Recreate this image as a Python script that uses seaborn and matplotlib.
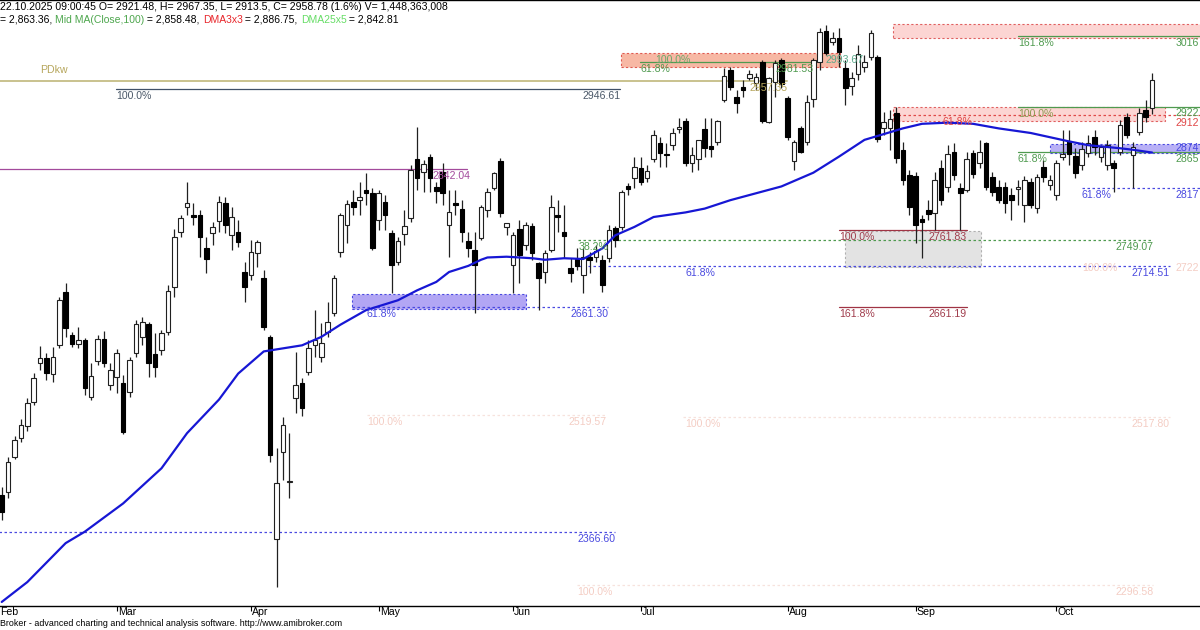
import matplotlib
matplotlib.use("Agg")
import matplotlib.pyplot as plt
import matplotlib.patches as mpatches
import numpy as np
import pandas as pd
import seaborn as sns

# daily bars, 5 Feb .. 22 Oct 2025, one entry per session
opens = [2415, 2419, 2465, 2490, 2505, 2537, 2588, 2594, 2574, 2611,
         2681, 2625, 2613, 2618, 2543, 2591, 2619, 2559, 2570, 2562,
         2550, 2601, 2622, 2639, 2600, 2605, 2628, 2687, 2759, 2792,
         2782, 2782, 2738, 2758, 2774, 2797, 2755, 2759, 2707, 2703,
         2732, 2699, 2622, 2357, 2471, 2432, 2542, 2562, 2576, 2611,
         2596, 2628, 2653, 2733, 2769, 2799, 2801, 2814, 2811, 2775,
         2799, 2758, 2720, 2757, 2778, 2855, 2838, 2858, 2818, 2838,
         2769, 2797, 2790, 2748, 2736, 2752, 2788, 2817, 2852, 2766,
         2716, 2763, 2742, 2767, 2719, 2707, 2736, 2782, 2759, 2712,
         2724, 2703, 2727, 2727, 2723, 2725, 2765, 2766, 2820, 2830,
         2843, 2830, 2855, 2876, 2862, 2873, 2894, 2905, 2850, 2855,
         2894, 2872, 2877, 2932, 2972, 2936, 2949, 2961, 2955, 2982,
         2903, 2956, 2985, 2935, 2852, 2896, 2877, 2934, 2982, 3023,
         3008, 3013, 2974, 2951, 2966, 2975, 2989, 2989, 2896, 2896,
         2915, 2867, 2834, 2833, 2776, 2788, 2784, 2843, 2818, 2864,
         2817, 2814, 2863, 2850, 2876, 2831, 2818, 2818, 2808, 2816,
         2795, 2825, 2791, 2844, 2821, 2808, 2858, 2878, 2859, 2847,
         2863, 2884, 2858, 2847, 2850, 2864, 2910, 2860, 2890, 2919,
         2921.48]
highs = [2426, 2465, 2492, 2515, 2542, 2575, 2610, 2601, 2609, 2674,
         2693, 2628, 2635, 2621, 2588, 2625, 2630, 2588, 2606, 2572,
         2596, 2644, 2648, 2642, 2627, 2631, 2690, 2763, 2782, 2825,
         2797, 2788, 2753, 2773, 2807, 2805, 2792, 2775, 2720, 2749,
         2749, 2710, 2625, 2477, 2517, 2496, 2602, 2568, 2618, 2657,
         2640, 2668, 2703, 2784, 2801, 2814, 2825, 2837, 2817, 2814,
         2808, 2762, 2753, 2788, 2847, 2897, 2854, 2862, 2825, 2850,
         2814, 2814, 2801, 2759, 2759, 2795, 2817, 2838, 2856, 2771,
         2759, 2775, 2773, 2771, 2720, 2736, 2808, 2801, 2795, 2725,
         2738, 2738, 2733, 2742, 2729, 2769, 2767, 2814, 2824, 2858,
         2858, 2847, 2893, 2884, 2876, 2896, 2909, 2909, 2871, 2880,
         2909, 2909, 2906, 2974, 2975, 2945, 2958, 2972, 2968, 2985,
         2962, 2985, 2987, 2938, 2880, 2898, 2939, 2987, 3027, 3030,
         3021, 3027, 2985, 2969, 3004, 2991, 3024, 2991, 2917, 2919,
         2923, 2877, 2841, 2838, 2782, 2801, 2838, 2854, 2873, 2876,
         2824, 2864, 2867, 2880, 2877, 2838, 2827, 2825, 2817, 2827,
         2833, 2830, 2835, 2854, 2834, 2854, 2893, 2893, 2869, 2877,
         2886, 2893, 2873, 2880, 2854, 2906, 2915, 2877, 2922, 2932,
         2967.35]
lows = [2382, 2411, 2462, 2484, 2499, 2533, 2579, 2566, 2563, 2608,
        2622, 2609, 2608, 2546, 2539, 2585, 2583, 2553, 2549, 2495,
        2543, 2596, 2611, 2570, 2570, 2598, 2625, 2674, 2753, 2782,
        2769, 2727, 2706, 2742, 2759, 2758, 2736, 2740, 2668, 2697,
        2714, 2631, 2458, 2295, 2435, 2411, 2522, 2518, 2572, 2596,
        2589, 2622, 2649, 2727, 2745, 2782, 2782, 2795, 2736, 2762,
        2762, 2680, 2716, 2742, 2773, 2814, 2812, 2812, 2797, 2795,
        2727, 2782, 2746, 2727, 2653, 2749, 2779, 2814, 2779, 2755,
        2680, 2693, 2736, 2723, 2657, 2693, 2733, 2759, 2725, 2694,
        2710, 2680, 2706, 2720, 2681, 2720, 2740, 2762, 2808, 2817,
        2821, 2825, 2851, 2845, 2845, 2867, 2889, 2846, 2838, 2841,
        2858, 2858, 2873, 2930, 2945, 2915, 2936, 2958, 2945, 2902,
        2902, 2936, 2948, 2880, 2841, 2863, 2873, 2923, 2972, 2991,
        3004, 2975, 2926, 2939, 2958, 2969, 2985, 2877, 2886, 2867,
        2850, 2821, 2782, 2745, 2725, 2775, 2762, 2795, 2812, 2827,
        2762, 2812, 2830, 2843, 2814, 2806, 2797, 2784, 2775, 2795,
        2772, 2791, 2784, 2825, 2814, 2801, 2854, 2847, 2830, 2841,
        2858, 2860, 2851, 2841, 2812, 2860, 2882, 2817, 2886, 2903,
        2913.5]
closes = [2393, 2458, 2487, 2507, 2536, 2568, 2594, 2575, 2596, 2670,
          2634, 2613, 2618, 2555, 2571, 2619, 2588, 2579, 2601, 2498,
          2592, 2639, 2642, 2588, 2583, 2627, 2682, 2753, 2778, 2797,
          2779, 2753, 2724, 2766, 2799, 2769, 2779, 2746, 2687, 2733,
          2746, 2635, 2467, 2431, 2507, 2433, 2559, 2529, 2608, 2618,
          2614, 2642, 2699, 2782, 2796, 2792, 2805, 2811, 2738, 2811,
          2782, 2716, 2748, 2767, 2841, 2830, 2848, 2830, 2813, 2811,
          2786, 2795, 2759, 2738, 2716, 2792, 2812, 2837, 2784, 2771,
          2755, 2729, 2769, 2732, 2699, 2732, 2792, 2779, 2754, 2706,
          2715, 2727, 2723, 2734, 2690, 2762, 2749, 2812, 2816, 2845,
          2825, 2839, 2886, 2863, 2860, 2889, 2897, 2850, 2860, 2880,
          2869, 2868, 2905, 2964, 2949, 2928, 2945, 2966, 2962, 2905,
          2961, 2981, 2953, 2884, 2877, 2864, 2930, 2985, 3021, 2994,
          3013, 2995, 2948, 2961, 2992, 2982, 3020, 2881, 2903, 2907,
          2856, 2827, 2792, 2769, 2772, 2783, 2827, 2801, 2861, 2834,
          2810, 2855, 2835, 2864, 2818, 2812, 2801, 2797, 2801, 2818,
          2827, 2795, 2831, 2831, 2827, 2850, 2862, 2862, 2837, 2868,
          2876, 2871, 2871, 2873, 2843, 2899, 2886, 2871, 2915, 2910,
          2958.78]

month_labels = ["Feb", "Mar", "Apr", "May", "Jun", "Jul", "Aug", "Sep", "Oct"]
month_first_bar = [-2, 18, 39, 59, 80, 100, 123, 143, 165]

# blue moving average at a handful of bars
ma_bars = [0, 4, 10, 13, 19, 25, 29, 34, 37, 41, 47, 50, 53, 57, 62, 65,
           68, 70, 73, 75, 76, 79, 83, 85, 88, 91, 94, 96, 99, 102, 107,
           110, 114, 118, 122, 127, 131, 135, 141, 144, 148, 152, 156,
           161, 167, 170, 175, 177, 180]
ma_values = [2275, 2301, 2352, 2367, 2404, 2450, 2496, 2540, 2574, 2603,
             2611, 2622, 2638, 2657, 2670, 2683, 2694, 2707, 2715, 2723,
             2726, 2727, 2725, 2723, 2725, 2724, 2738, 2755, 2766, 2779,
             2785, 2790, 2801, 2810, 2819, 2837, 2858, 2880, 2895, 2901,
             2902.5, 2901, 2895, 2889, 2878, 2873, 2869, 2867, 2863.36]

W, H = 1200, 630
FS = 7.6
DASH = (0, (2, 2))
RIGHT_EDGE = 187.35


def level(ax, y, x0, x1, color, ls="-", lw=0.9, z=2):
    ax.plot([x0, x1], [y, y], color=color, ls=ls, lw=lw, zorder=z)


def label(ax, x, y, text, color, ha="left", below=True):
    ax.annotate(text, (x, y), xytext=(0, -2 if below else 2),
                textcoords="offset pixels", ha=ha,
                va="top" if below else "bottom", color=color,
                fontsize=FS, zorder=9, annotation_clip=False)


def box(ax, x0, x1, y0, y1, face, edge, z=1):
    ax.add_patch(mpatches.Rectangle((x0, y0), x1 - x0, y1 - y0,
                                    facecolor=face, edgecolor=edge,
                                    lw=0.8, ls=DASH, zorder=z))


def draw_candles(ax, df):
    up = df["close"] >= df["open"]
    bottom = np.minimum(df["open"], df["close"])
    height = np.maximum(np.abs(df["close"] - df["open"]), 1.0)
    ax.vlines(df["bar"], df["low"], df["high"], color="#202020", lw=0.9, zorder=4)
    ax.bar(df["bar"][up], height[up], bottom=bottom[up], width=0.72,
           color="white", edgecolor="#202020", lw=0.8, zorder=5)
    ax.bar(df["bar"][~up], height[~up], bottom=bottom[~up], width=0.72,
           color="black", edgecolor="black", lw=0.8, zorder=5)


def header(fig):
    renderer = fig.canvas.get_renderer()
    fig.text(0, 1 - 6.5 / H,
             "22.10.2025 09:00:45 O= 2921.48, H= 2967.35, L= 2913.5, "
             "C= 2958.78 (1.6%) V= 1,448,363,008",
             fontsize=FS, va="center", ha="left", color="black")
    parts = [("= 2,863.36, ", "black"), ("Mid MA(Close,100)", "#4da64d"),
             (" = 2,858.48, ", "black"), ("DMA3x3", "#e8262b"),
             (" = 2,886.75, ", "black"), ("DMA25x5", "#66dd66"),
             (" = 2,842.81", "black")]
    x = 0.0
    for text, color in parts:
        t = fig.text(x / W, 1 - 20 / H, text, fontsize=7.45, va="center",
                     ha="left", color=color)
        x += t.get_window_extent(renderer).width


def main():
    sns.set_style("white")
    plt.rcParams["font.family"] = ["Liberation Sans", "DejaVu Sans"]

    df = pd.DataFrame({"open": opens, "high": highs, "low": lows, "close": closes})
    df["bar"] = np.arange(len(df))

    fig = plt.figure(figsize=(W / 100, H / 100), dpi=100)
    ax = fig.add_axes([0, 24 / H, 1, 606 / H])
    ax.set_xlim(-0.27, 187.5)
    ax.set_ylim(2269.7, 3063.1)

    # zones
    box(ax, 96.9, 131.2, 2975.8, 2993.7, "#f7b8a4", "#e05a50")
    box(ax, 139.5, 190, 3013.0, 3031.7, "#fcd5d3", "#e06060")
    box(ax, 139.5, 182.1, 2904.7, 2923.1, "#fcd5d3", "#e06060")
    box(ax, 164.0, 190, 2862.8, 2874.6, "#b8b0f6", "#4a4ae0")
    box(ax, 132.0, 153.3, 2713.6, 2760.7, "#e3e3e3", "#b0b0b0")
    box(ax, 54.8, 82.1, 2658.6, 2678.2, "#b2a6f4", "#4a4ae0")

    # faint retracement levels
    faint, faint_txt = "#f7e2dd", "#f4cdc4"
    level(ax, 2519.57, 57.2, 94.7, faint, DASH)
    label(ax, 57.2, 2519.57, "100.0%", faint_txt)
    label(ax, 94.7, 2519.57, "2519.57", faint_txt, ha="right")
    level(ax, 2517.80, 106.6, 182.8, faint, DASH)
    label(ax, 107.0, 2517.80, "100.0%", faint_txt)
    label(ax, 182.8, 2517.80, "2517.80", faint_txt, ha="right")
    level(ax, 2297.2, 90.0, 180.2, faint, DASH)
    label(ax, 90.0, 2297.2, "100.0%", faint_txt)
    label(ax, 180.2, 2297.2, "2296.58", faint_txt, ha="right")
    label(ax, 169.0, 2722.0, "100.0%", faint_txt)
    label(ax, RIGHT_EDGE, 2722.0, "2722", faint_txt, ha="right")

    # PDkw
    level(ax, 2957.5, -1, 122.9, "#c9c28e", lw=1.4)
    label(ax, 6.0, 2962.0, "PDkw", "#b6a65c", below=False)
    label(ax, 122.9, 2957.5, "2957.35", "#b6a65c", ha="right")

    # 100% line of the spring swing
    level(ax, 2946.61, 17.9, 96.8, "#3f5068")
    label(ax, 17.9, 2946.61, "100.0%", "#4a5868")
    label(ax, 96.8, 2946.61, "2946.61", "#4a5868", ha="right")

    # purple pivot
    level(ax, 2842.04, -1, 72.8, "#a34a9c")
    label(ax, 73.3, 2842.04, "2842.04", "#a34a9c", ha="right")

    # July zone
    level(ax, 2981.53, 99.9, 127.0, "#4f9a4f")
    label(ax, 102.2, 2993.67, "100.0%", "#6aa86a")
    label(ax, 134.8, 2993.67, "2993.67", "#5aa88a", ha="right")
    label(ax, 99.9, 2981.53, "61.8%", "#4f9a4f")
    label(ax, 127.0, 2981.53, "2981.53", "#4f9a4f", ha="right")

    # right hand projections
    level(ax, 3016.0, 159.0, 190, "#4f9a4f")
    label(ax, 159.0, 3016.0, "161.8%", "#4f9a4f")
    label(ax, RIGHT_EDGE, 3016.0, "3016", "#4f9a4f", ha="right")
    level(ax, 2922.6, 159.0, 190, "#4f9a4f")
    label(ax, 159.0, 2922.6, "100.0%", "#8a9a50")
    label(ax, RIGHT_EDGE, 2924.5, "2922", "#4f9a4f", ha="right")
    level(ax, 2912.6, 139.5, 190, "#e04848", DASH)
    label(ax, 147.2, 2912.6, "61.8%", "#e04848")
    label(ax, RIGHT_EDGE, 2911.5, "2912", "#e04848", ha="right")
    label(ax, RIGHT_EDGE, 2878.0, "2874", "#4a4ae0", ha="right")
    level(ax, 2864.5, 159.0, 190, "#4f9a4f")
    label(ax, 159.0, 2864.5, "61.8%", "#4f9a4f")
    label(ax, RIGHT_EDGE, 2864.5, "2865", "#4f9a4f", ha="right")
    level(ax, 2817.0, 169.0, 190, "#4a4ae0", DASH)
    label(ax, 169.0, 2817.0, "61.8%", "#4a4ae0")
    label(ax, RIGHT_EDGE, 2817.0, "2817", "#4a4ae0", ha="right")

    # mid-chart retracements
    level(ax, 2749.07, 90.2, 180.2, "#4f9a4f", DASH)
    label(ax, 90.2, 2749.07, "38.2%", "#4f9a4f")
    label(ax, 180.2, 2749.07, "2749.07", "#4f9a4f", ha="right")
    level(ax, 2714.51, 90.2, 182.8, "#4a4ae0", DASH)
    label(ax, 107.0, 2714.51, "61.8%", "#4a4ae0")
    label(ax, 182.8, 2714.51, "2714.51", "#4a4ae0", ha="right")
    level(ax, 2761.83, 131.0, 151.0, "#a03444")
    label(ax, 131.0, 2761.83, "100.0%", "#a03c4c")
    label(ax, 151.0, 2761.83, "2761.83", "#a03c4c", ha="right")
    level(ax, 2661.19, 131.0, 151.0, "#a03444")
    label(ax, 131.0, 2661.19, "161.8%", "#a03c4c")
    label(ax, 151.0, 2661.19, "2661.19", "#a03c4c", ha="right")
    level(ax, 2661.30, 54.8, 94.9, "#4a4ae0", DASH)
    label(ax, 57.0, 2661.30, "61.8%", "#4a4ae0")
    label(ax, 94.9, 2661.30, "2661.30", "#4a4ae0", ha="right")
    level(ax, 2366.60, -1, 96.0, "#4a4ae0", DASH)
    label(ax, 96.0, 2366.60, "2366.60", "#4a4ae0", ha="right")

    draw_candles(ax, df)
    sns.lineplot(x=ma_bars, y=ma_values, ax=ax, color="#1717d4", lw=1.6,
                 zorder=6)

    # month axis
    ax.set_xticks([])
    ax.set_yticks([])
    for side in ["left", "right"]:
        ax.spines[side].set_visible(False)
    for side in ["top", "bottom"]:
        ax.spines[side].set_color("black")
        ax.spines[side].set_linewidth(1.0)
    xt = ax.get_xaxis_transform()
    ax.vlines(month_first_bar, -4.5 / 606, 0, color="black", lw=0.8,
              transform=xt, clip_on=False)
    for b, name in zip(month_first_bar, month_labels):
        # the first month starts left of the frame; keep its label inside
        xpos = max(b + 0.2, -0.2)
        ax.text(xpos, -1.0 / 606, name, transform=xt, ha="left", va="top",
                fontsize=FS, color="black", clip_on=False)

    header(fig)
    fig.text(0, 1 - 624 / H, "Broker - advanced charting and technical analysis "
             "software. http://www.amibroker.com", fontsize=6.4, va="center",
             ha="left", color="black")

    fig.savefig("out.png", dpi=100)
    plt.close(fig)


if __name__ == "__main__":
    main()
